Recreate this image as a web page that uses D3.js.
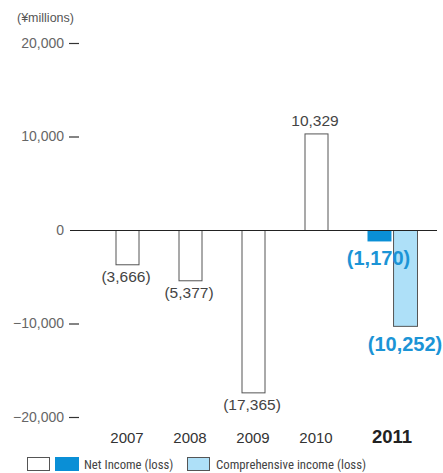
<!DOCTYPE html>
<html>
<head>
<meta charset="utf-8">
<script src="https://cdn.jsdelivr.net/npm/d3@7"></script>
<style>
  body { margin: 0; background: #fff; }
  svg { display: block; font-family: "Liberation Sans", Arial, sans-serif; }
  .legend text { font-family: "Roboto Condensed", "Liberation Sans Narrow", "Arial Narrow", sans-serif; }
</style>
</head>
<body>
<svg id="chart" width="443" height="473"></svg>
<script>
// Past years: net income (loss), ¥ millions
const pastYears = ["2007", "2008", "2009", "2010"];
const pastValues = [-3666, -5377, -17365, 10329];
const pastLabels = ["(3,666)", "(5,377)", "(17,365)", "10,329"];

// Current year: net income vs. comprehensive income
const currentYear = "2011";
const currentSeries = ["Net Income (loss)", "Comprehensive income (loss)"];
const currentValues = [-1170, -10252];
const currentLabels = ["(1,170)", "(10,252)"];

const yTicks = [20000, 10000, 0, -10000, -20000];
const unitLabel = "(¥millions)";

const colNet = "#0a8fd6";
const colComp = "#aee0f8";
const colLabelBlue = "#1b94d6";
const stroke = "#555";

const svg = d3.select("#chart");

const y = d3.scaleLinear().domain([-20000, 20000]).range([417, 43]);
const x = d3.scalePoint().domain(pastYears.concat([currentYear])).range([127, 379]);
const currentShift = 13;         // the highlighted year sits a little further right
const barW = 23;
const sub = d3.scaleBand().domain(currentSeries).range([-25, 25]).paddingInner(0.08);

// unit caption
svg.append("text").attr("x", 17).attr("y", 22).attr("font-size", 12.5).attr("fill", "#555")
  .text(unitLabel);

// y axis: labels with short dashes
const yAxis = d3.axisLeft(y).tickValues(yTicks).tickSize(0).tickPadding(0)
  .tickFormat(d => d3.format(",")(d));
const gy = svg.append("g").attr("transform", "translate(64,0)").call(yAxis);
gy.select(".domain").remove();
gy.selectAll("text").attr("font-size", 14).attr("fill", "#666")
  .attr("font-family", "inherit");
svg.selectAll(".ydash").data(yTicks.filter(d => d !== 0)).join("line")
  .attr("x1", 69).attr("x2", 79)
  .attr("y1", d => y(d) + 0.5).attr("y2", d => y(d) + 0.5)
  .attr("stroke", "#333").attr("stroke-width", 1.2);

// past-year bars
svg.selectAll(".bar").data(pastValues).join("rect")
  .attr("x", (d, i) => x(pastYears[i]) - barW / 2 + 0.5)
  .attr("y", d => y(Math.max(0, d)) + 0.5)
  .attr("width", barW)
  .attr("height", d => Math.abs(y(d) - y(0)))
  .attr("fill", "#fff").attr("stroke", stroke).attr("stroke-width", 1);

// current-year bars
const cx = x(currentYear) + currentShift;
svg.selectAll(".cbar").data(currentValues).join("rect")
  .attr("x", (d, i) => cx + sub(currentSeries[i]) + 0.5)
  .attr("y", d => y(Math.max(0, d)) + 0.5)
  .attr("width", sub.bandwidth())
  .attr("height", d => Math.abs(y(d) - y(0)))
  .attr("fill", (d, i) => i === 0 ? colNet : colComp)
  .attr("stroke", (d, i) => i === 0 ? "none" : stroke);

// zero baseline
svg.append("line").attr("x1", 70).attr("x2", 437)
  .attr("y1", y(0) + 0.5).attr("y2", y(0) + 0.5)
  .attr("stroke", "#222").attr("stroke-width", 1.2);

// value labels for past years
svg.selectAll(".vl").data(pastValues).join("text")
  .attr("x", (d, i) => x(pastYears[i]) - 1)
  .attr("y", d => d < 0 ? y(d) + 18 : y(d) - 7)
  .attr("text-anchor", "middle").attr("font-size", 15.5).attr("fill", "#444")
  .text((d, i) => pastLabels[i]);

// value labels for current year
svg.append("text").attr("x", cx - 13.5).attr("y", y(currentValues[0]) + 24)
  .attr("text-anchor", "middle").attr("font-size", 20).attr("font-weight", "bold")
  .attr("fill", colLabelBlue).text(currentLabels[0]);
svg.append("text").attr("x", cx + 13).attr("y", y(currentValues[1]) + 25)
  .attr("text-anchor", "middle").attr("font-size", 20).attr("font-weight", "bold")
  .attr("fill", colLabelBlue).text(currentLabels[1]);

// year labels
svg.selectAll(".yr").data(pastYears).join("text")
  .attr("x", d => x(d)).attr("y", 443)
  .attr("text-anchor", "middle").attr("font-size", 15).attr("fill", "#333")
  .text(d => d);
svg.append("text").attr("x", cx).attr("y", 443)
  .attr("text-anchor", "middle").attr("font-size", 18.5).attr("font-weight", "bold")
  .attr("fill", "#222").text(currentYear);

// legend
const lg = svg.append("g").attr("class", "legend").attr("transform", "translate(0,457)");
lg.append("rect").attr("x", 27.5).attr("y", 0.5).attr("width", 22).attr("height", 13)
  .attr("fill", "#fff").attr("stroke", stroke);
lg.append("rect").attr("x", 55).attr("y", 0).attr("width", 24).attr("height", 14)
  .attr("fill", colNet);
lg.append("text").attr("x", 84).attr("y", 12).attr("font-size", 12.7).attr("fill", "#444")
  .text(currentSeries[0]);
lg.append("rect").attr("x", 187.5).attr("y", 0.5).attr("width", 22).attr("height", 13)
  .attr("fill", colComp).attr("stroke", stroke);
lg.append("text").attr("x", 216).attr("y", 12).attr("font-size", 12.8).attr("fill", "#444")
  .text(currentSeries[1]);
</script>
</body>
</html>
